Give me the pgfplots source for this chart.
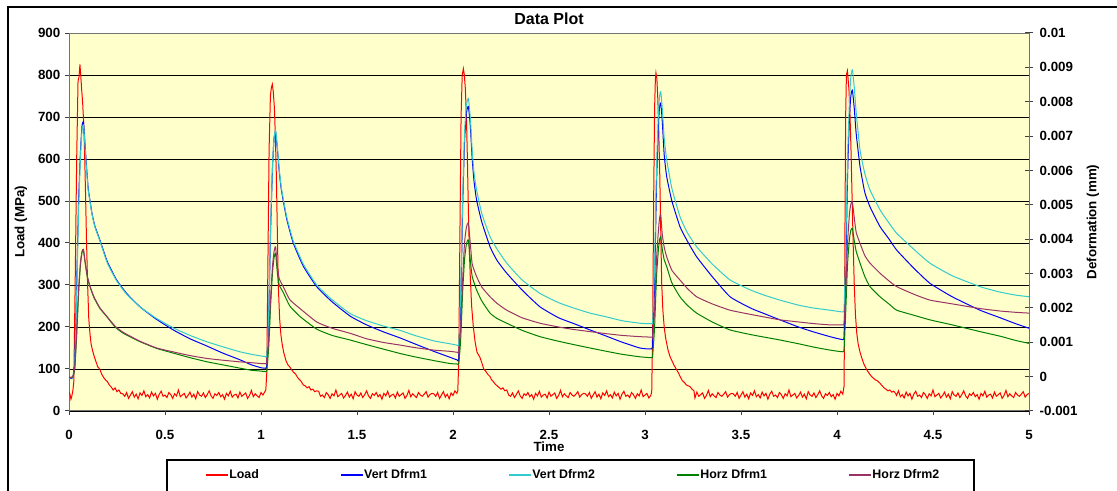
\documentclass[border=0pt]{standalone}
\usepackage{fontspec}
\setmainfont{Liberation Sans}
\usepackage{pgfplots}
\pgfplotsset{compat=1.18}

\definecolor{plotbg}{HTML}{FFFFCC}
\definecolor{loadred}{HTML}{FF0000}
\definecolor{vertone}{HTML}{0000FF}
\definecolor{verttwo}{HTML}{33CCCC}
\definecolor{horzone}{HTML}{008000}
\definecolor{horztwo}{HTML}{993366}

\newcommand{\tickfont}{\bfseries\fontsize{10}{12}\selectfont}
\newcommand{\labfont}{\bfseries\fontsize{10}{12}\selectfont}
\newcommand{\titfont}{\bfseries\fontsize{12}{14}\selectfont}
\newcommand{\legfont}{\bfseries\fontsize{9.3}{11}\selectfont}

\begin{document}
\begin{tikzpicture}
% 1 px of the reference = 0.75pt
\useasboundingbox (0,0) rectangle (837.75pt,368.25pt);
\draw[black, line width=1.3pt] (6pt,-10pt) -- (6pt,363pt) -- (850pt,363pt);

\begin{axis}[
  at={(51.75pt,60pt)}, anchor=south west,
  scale only axis, width=720pt, height=283.5pt,
  xmin=0, xmax=5, ymin=0, ymax=900,
  axis background/.style={fill=plotbg},
  xtick={0,0.5,1,1.5,2,2.5,3,3.5,4,4.5,5},
  xticklabels={0,0.5,1,1.5,2,2.5,3,3.5,4,4.5,5},
  ytick={0,100,200,300,400,500,600,700,800,900},
  yticklabels={0,100,200,300,400,500,600,700,800,900},
  xtick pos=bottom, ytick pos=left,
  tick align=outside, major tick length=3pt,
  tick style={black!75, line width=0.75pt},
  axis line style={black!55, line width=0.75pt},
  ymajorgrids, grid style={black, line width=0.55pt},
  ticklabel style={font=\tickfont},
  xticklabel style={yshift=-8pt},
  xlabel={Time}, ylabel={Load (MPa)}, title={Data Plot},
  every axis title shift=0pt,
  label style={font=\labfont},
  xlabel style={at={(axis description cs:0.5,-0.094)}, anchor=center},
  ylabel style={at={(axis description cs:-0.05,0.5)}, anchor=center},
  title style={at={(axis description cs:0.5,1.037)}, anchor=center, font=\titfont},
]
\addplot[draw=loadred, line width=0.75pt] coordinates {
(0,45)(0.005,40)(0.01,28)(0.015,36)(0.02,48)(0.025,70)(0.032,300)(0.04,600)(0.047,785)(0.052,795)(0.057,825)(0.061,800)(0.066,765)(0.071,735)(0.076,690)(0.081,620)(0.086,520)(0.091,410)(0.097,300)(0.103,220)(0.109,185)(0.115,160)(0.122,145)(0.13,132)(0.14,118)(0.15,105)(0.16,100)(0.17,88)(0.18,80)(0.19,74)(0.2,70)(0.21,62)(0.22,57)(0.23,50)(0.24,55)(0.25,46)(0.26,50)(0.27,42)
(0.28,41)(0.29,35)(0.3,44)(0.31,30)(0.32,38)(0.33,46)(0.34,33)(0.35,40)(0.36,29)(0.37,43)(0.38,37)(0.39,48)(0.4,34)(0.41,39)(0.42,31)(0.43,45)(0.44,36)(0.45,42)(0.46,28)(0.47,40)(0.48,47)(0.49,35)(0.5,38)(0.51,32)(0.52,44)(0.53,39)(0.54,30)(0.55,41)(0.56,36)(0.57,50)(0.58,34)(0.59,38)(0.6,42)(0.61,31)(0.62,37)(0.63,45)(0.64,33)(0.65,40)(0.66,29)(0.67,46)(0.68,38)(0.69,35)(0.7,43)(0.71,32)(0.72,39)(0.73,48)(0.74,36)(0.75,30)(0.76,41)(0.77,37)(0.78,44)(0.79,34)(0.8,39)(0.81,28)(0.82,42)(0.83,36)(0.84,47)(0.85,33)(0.86,38)(0.87,40)(0.88,31)(0.89,45)(0.9,35)(0.91,39)(0.92,43)(0.93,30)(0.94,37)(0.95,49)(0.96,34)(0.97,41)(0.98,36)(0.99,32)(1,44)(1.01,38)(1.02,46)
(1.025,50)(1.03,90)(1.036,350)(1.042,620)(1.049,750)(1.054,770)(1.059,778)(1.064,760)(1.07,720)(1.075,650)(1.08,560)(1.085,430)(1.09,300)(1.097,220)(1.104,180)(1.11,160)(1.118,140)(1.13,120)(1.14,110)(1.15,105)(1.16,98)(1.17,92)(1.18,88)(1.19,80)(1.2,75)(1.21,70)(1.22,62)(1.23,60)(1.24,55)(1.25,58)(1.26,50)(1.27,52)(1.28,46)(1.29,48)
(1.3,47)(1.31,35)(1.32,38)(1.33,32)(1.34,44)(1.35,39)(1.36,30)(1.37,41)(1.38,36)(1.39,50)(1.4,34)(1.41,38)(1.42,42)(1.43,31)(1.44,37)(1.45,45)(1.46,33)(1.47,40)(1.48,29)(1.49,46)(1.5,38)(1.51,35)(1.52,43)(1.53,32)(1.54,39)(1.55,48)(1.56,36)(1.57,30)(1.58,41)(1.59,37)(1.6,44)(1.61,34)(1.62,39)(1.63,28)(1.64,42)(1.65,36)(1.66,47)(1.67,33)(1.68,38)(1.69,40)(1.7,31)(1.71,45)(1.72,35)(1.73,39)(1.74,43)(1.75,30)(1.76,37)(1.77,49)(1.78,34)(1.79,41)(1.8,36)(1.81,32)(1.82,44)(1.83,38)(1.84,35)(1.85,40)(1.86,46)(1.87,33)(1.88,39)(1.89,42)(1.9,41)(1.91,35)(1.92,44)(1.93,30)(1.94,38)(1.95,46)(1.96,33)(1.97,40)(1.98,29)(1.99,43)(2,37)(2.01,48)(2.02,42)
(2.025,48)(2.03,120)(2.036,420)(2.042,700)(2.048,800)(2.054,815)(2.059,800)(2.064,770)(2.07,700)(2.075,600)(2.08,480)(2.085,383)(2.09,320)(2.097,250)(2.106,200)(2.115,165)(2.125,140)(2.14,128)(2.15,115)(2.16,100)(2.17,95)(2.18,88)(2.193,82)(2.2,75)(2.21,70)(2.22,64)(2.23,60)(2.24,56)(2.25,52)(2.26,55)(2.27,48)(2.28,50)
(2.29,38)(2.3,35)(2.31,43)(2.32,32)(2.33,39)(2.34,48)(2.35,36)(2.36,30)(2.37,41)(2.38,37)(2.39,44)(2.4,34)(2.41,39)(2.42,28)(2.43,42)(2.44,36)(2.45,47)(2.46,33)(2.47,38)(2.48,40)(2.49,31)(2.5,45)(2.51,35)(2.52,39)(2.53,43)(2.54,30)(2.55,37)(2.56,49)(2.57,34)(2.58,41)(2.59,36)(2.6,32)(2.61,44)(2.62,38)(2.63,35)(2.64,40)(2.65,46)(2.66,33)(2.67,39)(2.68,42)(2.69,41)(2.7,35)(2.71,44)(2.72,30)(2.73,38)(2.74,46)(2.75,33)(2.76,40)(2.77,29)(2.78,43)(2.79,37)(2.8,48)(2.81,34)(2.82,39)(2.83,31)(2.84,45)(2.85,36)(2.86,42)(2.87,28)(2.88,40)(2.89,47)(2.9,35)(2.91,38)(2.92,32)(2.93,44)(2.94,39)(2.95,30)(2.96,41)(2.97,36)(2.98,50)(2.99,34)(3,38)(3.01,42)(3.02,31)(3.03,37)
(3.035,45)(3.04,200)(3.045,500)(3.05,720)(3.054,790)(3.057,805)(3.062,790)(3.067,740)(3.072,660)(3.077,560)(3.082,430)(3.087,304)(3.093,240)(3.1,200)(3.107,175)(3.113,161)(3.12,145)(3.13,130)(3.14,120)(3.15,110)(3.165,98)(3.175,90)(3.185,80)(3.195,72)(3.205,68)(3.215,62)(3.225,60)(3.234,58)(3.245,52)(3.255,48)
(3.26,31)(3.27,45)(3.28,35)(3.29,39)(3.3,43)(3.31,30)(3.32,37)(3.33,49)(3.34,34)(3.35,41)(3.36,36)(3.37,32)(3.38,44)(3.39,38)(3.4,35)(3.41,40)(3.42,46)(3.43,33)(3.44,39)(3.45,42)(3.46,41)(3.47,35)(3.48,44)(3.49,30)(3.5,38)(3.51,46)(3.52,33)(3.53,40)(3.54,29)(3.55,43)(3.56,37)(3.57,48)(3.58,34)(3.59,39)(3.6,31)(3.61,45)(3.62,36)(3.63,42)(3.64,28)(3.65,40)(3.66,47)(3.67,35)(3.68,38)(3.69,32)(3.7,44)(3.71,39)(3.72,30)(3.73,41)(3.74,36)(3.75,50)(3.76,34)(3.77,38)(3.78,42)(3.79,31)(3.8,37)(3.81,45)(3.82,33)(3.83,40)(3.84,29)(3.85,46)(3.86,38)(3.87,35)(3.88,43)(3.89,32)(3.9,39)(3.91,48)(3.92,36)(3.93,30)(3.94,41)(3.95,37)(3.96,44)(3.97,34)(3.98,39)(3.99,28)(4,42)(4.01,36)(4.02,47)(4.03,40)
(4.037,60)(4.041,400)(4.045,700)(4.049,800)(4.054,810)(4.058,790)(4.063,760)(4.068,700)(4.073,620)(4.079,500)(4.085,383)(4.09,300)(4.096,230)(4.103,185)(4.11,160)(4.12,140)(4.13,125)(4.14,112)(4.155,98)(4.17,88)(4.18,82)(4.19,78)(4.2,74)(4.21,72)(4.224,66)(4.235,60)(4.245,55)(4.255,52)(4.265,48)(4.275,50)(4.285,45)(4.295,47)(4.305,42)
(4.31,37)(4.32,48)(4.33,34)(4.34,39)(4.35,31)(4.36,45)(4.37,36)(4.38,42)(4.39,28)(4.4,40)(4.41,47)(4.42,35)(4.43,38)(4.44,32)(4.45,44)(4.46,39)(4.47,30)(4.48,41)(4.49,36)(4.5,50)(4.51,34)(4.52,38)(4.53,42)(4.54,31)(4.55,37)(4.56,45)(4.57,33)(4.58,40)(4.59,29)(4.6,46)(4.61,38)(4.62,35)(4.63,43)(4.64,32)(4.65,39)(4.66,48)(4.67,36)(4.68,30)(4.69,41)(4.7,37)(4.71,44)(4.72,34)(4.73,39)(4.74,28)(4.75,42)(4.76,36)(4.77,47)(4.78,33)(4.79,38)(4.8,40)(4.81,31)(4.82,45)(4.83,35)(4.84,39)(4.85,43)(4.86,30)(4.87,37)(4.88,49)(4.89,34)(4.9,41)(4.91,36)(4.92,32)(4.93,44)(4.94,38)(4.95,35)(4.96,40)(4.97,46)(4.98,33)(4.99,39)(5,42)
};
\end{axis}

\begin{axis}[
  at={(51.75pt,60pt)}, anchor=south west,
  scale only axis, width=720pt, height=283.5pt,
  xmin=0, xmax=5, ymin=-0.001, ymax=0.01,
  axis x line=none, axis y line*=right,
  ytick={-0.001,0,0.001,0.002,0.003,0.004,0.005,0.006,0.007,0.008,0.009,0.01},
  yticklabels={-0.001,0,0.001,0.002,0.003,0.004,0.005,0.006,0.007,0.008,0.009,0.01},
  scaled y ticks=false,
  tick align=center, major tick length=6pt,
  tick style={black!75, line width=0.75pt},
  axis line style={black!55, line width=0.75pt},
  ticklabel style={font=\tickfont},
  yticklabel style={xshift=1.5pt},
  ylabel={Deformation (mm)},
  label style={font=\labfont},
  ylabel style={at={(axis description cs:1.0667,0.5)}, anchor=center},
  every axis plot/.append style={smooth, tension=0.3},
  legend columns=5,
  legend cell align=left,
  legend image code/.code={\draw[#1, sharp plot, line width=1pt] (0pt,0pt) -- (16.5pt,0pt);},
  legend style={at={(axis description cs:0.1021,-0.1296)}, anchor=north west,
    draw=none, fill=none, font=\legfont,
    inner xsep=28.5pt, inner ysep=5pt,
    nodes={inner xsep=0.5pt, inner ysep=2pt},
    /tikz/every even column/.append style={column sep=60.5pt}},
]
\addlegendimage{draw=loadred}
\addlegendentry{Load}
\addplot[draw=vertone, line width=0.75pt] coordinates {
(0,-0.022e-3)(0.01,-0.047e-3)(0.02,-0.022e-3)(0.03,0.467e-3)(0.04,2.667e-3)(0.05,5.111e-3)(0.06,6.578e-3)(0.068,7.311e-3)(0.075,7.421e-3)(0.08,7.067e-3)(0.09,6.211e-3)(0.1,5.478e-3)(0.109,5.136e-3)(0.12,4.744e-3)(0.135,4.378e-3)(0.161,3.974e-3)(0.2,3.339e-3)(0.248,2.813e-3)(0.3,2.422e-3)(0.37,2.031e-3)(0.45,1.689e-3)(0.543,1.359e-3)(0.63,1.102e-3)(0.717,0.894e-3)(0.8,0.687e-3)(0.89,0.491e-3)(0.95,0.344e-3)(1,0.259e-3)(1.02,0.247e-3)
(1.03,0.32e-3)(1.04,1.689e-3)(1.05,4.256e-3)(1.06,6.089e-3)(1.068,6.944e-3)(1.076,7.128e-3)(1.085,6.639e-3)(1.095,5.967e-3)(1.105,5.478e-3)(1.116,5.111e-3)(1.135,4.561e-3)(1.168,3.889e-3)(1.22,3.217e-3)(1.29,2.618e-3)(1.37,2.178e-3)(1.464,1.762e-3)(1.55,1.506e-3)(1.64,1.298e-3)(1.724,1.127e-3)(1.8,0.956e-3)(1.9,0.736e-3)(1.984,0.564e-3)(2.02,0.491e-3)
(2.03,0.528e-3)(2.04,2.056e-3)(2.05,4.867e-3)(2.06,6.822e-3)(2.07,7.678e-3)(2.08,7.861e-3)(2.09,7.311e-3)(2.1,6.333e-3)(2.11,5.661e-3)(2.123,5.136e-3)(2.15,4.5e-3)(2.193,3.779e-3)(2.23,3.376e-3)(2.28,3.009e-3)(2.36,2.52e-3)(2.453,2.031e-3)(2.55,1.713e-3)(2.63,1.542e-3)(2.714,1.359e-3)(2.8,1.176e-3)(2.88,1.004e-3)(2.974,0.833e-3)(3.035,0.809e-3)
(3.04,1.017e-3)(3.05,2.667e-3)(3.06,5.6e-3)(3.07,7.311e-3)(3.076,7.861e-3)(3.082,7.959e-3)(3.09,7.433e-3)(3.1,6.456e-3)(3.113,5.82e-3)(3.14,5.111e-3)(3.182,4.366e-3)(3.22,3.95e-3)(3.269,3.486e-3)(3.35,2.911e-3)(3.443,2.324e-3)(3.55,1.994e-3)(3.62,1.836e-3)(3.703,1.652e-3)(3.8,1.444e-3)(3.88,1.298e-3)(3.964,1.163e-3)(4.03,1.078e-3)
(4.037,1.2e-3)(4.045,2.911e-3)(4.055,5.844e-3)(4.065,7.556e-3)(4.072,8.167e-3)(4.08,8.338e-3)(4.09,7.8e-3)(4.1,7.067e-3)(4.12,6.113e-3)(4.145,5.356e-3)(4.172,4.94e-3)(4.224,4.366e-3)(4.27,4.011e-3)(4.311,3.681e-3)(4.4,3.156e-3)(4.484,2.716e-3)(4.6,2.324e-3)(4.745,1.933e-3)(4.85,1.713e-3)(4.93,1.542e-3)(5,1.408e-3)
};
\addlegendentry{Vert Dfrm1}
\addplot[draw=verttwo, line width=0.75pt] coordinates {
(0,-0.047e-3)(0.01,-0.022e-3)(0.02,-0.034e-3)(0.03,0.344e-3)(0.04,2.422e-3)(0.05,4.867e-3)(0.06,6.456e-3)(0.068,7.189e-3)(0.075,7.311e-3)(0.08,7.006e-3)(0.09,6.15e-3)(0.1,5.417e-3)(0.109,5.111e-3)(0.12,4.72e-3)(0.135,4.353e-3)(0.161,3.95e-3)(0.2,3.302e-3)(0.248,2.789e-3)(0.3,2.398e-3)(0.37,2.031e-3)(0.45,1.713e-3)(0.543,1.42e-3)(0.63,1.2e-3)(0.717,1.017e-3)(0.8,0.87e-3)(0.89,0.723e-3)(0.95,0.65e-3)(1,0.601e-3)(1.02,0.589e-3)
(1.03,0.626e-3)(1.04,1.811e-3)(1.05,4.378e-3)(1.06,6.15e-3)(1.068,6.944e-3)(1.076,7.164e-3)(1.085,6.7e-3)(1.095,6.028e-3)(1.105,5.539e-3)(1.116,5.172e-3)(1.135,4.622e-3)(1.168,3.95e-3)(1.22,3.278e-3)(1.29,2.667e-3)(1.37,2.239e-3)(1.464,1.836e-3)(1.55,1.628e-3)(1.64,1.469e-3)(1.724,1.347e-3)(1.8,1.2e-3)(1.9,1.041e-3)(1.984,0.956e-3)(2.02,0.919e-3)
(2.03,0.968e-3)(2.04,2.422e-3)(2.05,5.111e-3)(2.06,7.067e-3)(2.07,7.898e-3)(2.08,8.093e-3)(2.09,7.556e-3)(2.1,6.578e-3)(2.11,5.906e-3)(2.123,5.429e-3)(2.15,4.744e-3)(2.193,4.072e-3)(2.23,3.706e-3)(2.28,3.302e-3)(2.36,2.813e-3)(2.453,2.422e-3)(2.55,2.153e-3)(2.63,1.994e-3)(2.714,1.848e-3)(2.8,1.738e-3)(2.88,1.628e-3)(2.974,1.554e-3)(3.035,1.542e-3)
(3.04,1.628e-3)(3.05,3.278e-3)(3.06,6.089e-3)(3.07,7.678e-3)(3.076,8.167e-3)(3.082,8.289e-3)(3.09,7.8e-3)(3.1,6.944e-3)(3.113,6.309e-3)(3.14,5.478e-3)(3.182,4.659e-3)(3.22,4.194e-3)(3.269,3.779e-3)(3.35,3.278e-3)(3.443,2.813e-3)(3.55,2.52e-3)(3.62,2.373e-3)(3.703,2.227e-3)(3.8,2.08e-3)(3.88,1.994e-3)(3.964,1.933e-3)(4.03,1.884e-3)
(4.037,1.994e-3)(4.045,3.644e-3)(4.055,6.333e-3)(4.065,8.044e-3)(4.072,8.717e-3)(4.08,8.924e-3)(4.09,8.411e-3)(4.1,7.678e-3)(4.12,6.59e-3)(4.145,5.906e-3)(4.172,5.429e-3)(4.224,4.854e-3)(4.27,4.476e-3)(4.311,4.17e-3)(4.4,3.706e-3)(4.484,3.302e-3)(4.6,2.936e-3)(4.745,2.618e-3)(4.85,2.459e-3)(4.93,2.373e-3)(5,2.324e-3)
};
\addlegendentry{Vert Dfrm2}
\addplot[draw=horzone, line width=0.75pt] coordinates {
(0,-0.022e-3)(0.01,-0.034e-3)(0.02,-0.01e-3)(0.03,0.222e-3)(0.04,1.2e-3)(0.05,2.422e-3)(0.06,3.278e-3)(0.068,3.62e-3)(0.075,3.681e-3)(0.085,3.278e-3)(0.095,2.911e-3)(0.109,2.618e-3)(0.13,2.3e-3)(0.16,1.994e-3)(0.196,1.75e-3)(0.24,1.444e-3)(0.283,1.261e-3)(0.37,1.017e-3)(0.457,0.821e-3)(0.55,0.674e-3)(0.63,0.552e-3)(0.72,0.43e-3)(0.8,0.344e-3)(0.89,0.247e-3)(0.95,0.186e-3)(1,0.161e-3)(1.02,0.149e-3)
(1.03,0.173e-3)(1.04,0.833e-3)(1.05,2.056e-3)(1.06,3.033e-3)(1.068,3.461e-3)(1.076,3.596e-3)(1.085,3.033e-3)(1.095,2.667e-3)(1.116,2.447e-3)(1.15,2.056e-3)(1.203,1.75e-3)(1.29,1.383e-3)(1.37,1.2e-3)(1.464,1.066e-3)(1.55,0.931e-3)(1.64,0.797e-3)(1.724,0.674e-3)(1.8,0.577e-3)(1.9,0.467e-3)(1.984,0.381e-3)(2.02,0.369e-3)
(2.03,0.381e-3)(2.04,1.078e-3)(2.05,2.422e-3)(2.06,3.4e-3)(2.07,3.864e-3)(2.08,3.974e-3)(2.09,3.4e-3)(2.1,2.911e-3)(2.123,2.52e-3)(2.15,2.202e-3)(2.193,1.848e-3)(2.23,1.689e-3)(2.28,1.554e-3)(2.36,1.347e-3)(2.453,1.163e-3)(2.55,1.029e-3)(2.63,0.931e-3)(2.714,0.833e-3)(2.8,0.736e-3)(2.88,0.65e-3)(2.974,0.577e-3)(3.035,0.552e-3)
(3.04,0.613e-3)(3.05,1.444e-3)(3.06,2.911e-3)(3.07,3.706e-3)(3.076,3.987e-3)(3.082,4.072e-3)(3.09,3.706e-3)(3.1,3.4e-3)(3.113,3.204e-3)(3.14,2.728e-3)(3.182,2.324e-3)(3.22,2.08e-3)(3.269,1.848e-3)(3.35,1.591e-3)(3.443,1.359e-3)(3.55,1.224e-3)(3.62,1.151e-3)(3.703,1.066e-3)(3.8,0.956e-3)(3.88,0.858e-3)(3.964,0.772e-3)(4.03,0.723e-3)
(4.037,0.809e-3)(4.045,1.811e-3)(4.055,3.278e-3)(4.065,4.011e-3)(4.072,4.256e-3)(4.08,4.317e-3)(4.09,3.95e-3)(4.1,3.644e-3)(4.12,3.302e-3)(4.145,2.911e-3)(4.172,2.618e-3)(4.224,2.324e-3)(4.27,2.117e-3)(4.311,1.933e-3)(4.4,1.787e-3)(4.484,1.652e-3)(4.6,1.506e-3)(4.745,1.31e-3)(4.85,1.176e-3)(4.93,1.053e-3)(5,0.968e-3)
};
\addlegendentry{Horz Dfrm1}
\addplot[draw=horztwo, line width=0.75pt] coordinates {
(0,-0.01e-3)(0.01,-0.022e-3)(0.02,0.002e-3)(0.03,0.283e-3)(0.04,1.322e-3)(0.05,2.544e-3)(0.06,3.339e-3)(0.068,3.644e-3)(0.075,3.706e-3)(0.085,3.302e-3)(0.095,2.936e-3)(0.109,2.642e-3)(0.13,2.324e-3)(0.16,2.007e-3)(0.196,1.762e-3)(0.24,1.469e-3)(0.283,1.286e-3)(0.37,1.029e-3)(0.457,0.833e-3)(0.55,0.711e-3)(0.63,0.613e-3)(0.72,0.528e-3)(0.8,0.479e-3)(0.89,0.43e-3)(0.95,0.406e-3)(1,0.381e-3)(1.02,0.381e-3)
(1.03,0.406e-3)(1.04,1.078e-3)(1.05,2.3e-3)(1.06,3.217e-3)(1.068,3.644e-3)(1.076,3.779e-3)(1.085,3.217e-3)(1.095,2.85e-3)(1.116,2.618e-3)(1.15,2.239e-3)(1.203,1.982e-3)(1.29,1.591e-3)(1.37,1.408e-3)(1.464,1.261e-3)(1.55,1.102e-3)(1.64,0.992e-3)(1.724,0.919e-3)(1.8,0.846e-3)(1.9,0.772e-3)(1.984,0.736e-3)(2.02,0.711e-3)
(2.03,0.723e-3)(2.04,1.444e-3)(2.05,2.789e-3)(2.06,3.889e-3)(2.07,4.353e-3)(2.08,4.463e-3)(2.09,3.889e-3)(2.1,3.278e-3)(2.123,2.911e-3)(2.15,2.606e-3)(2.193,2.324e-3)(2.23,2.129e-3)(2.28,1.933e-3)(2.36,1.713e-3)(2.453,1.554e-3)(2.55,1.444e-3)(2.63,1.371e-3)(2.714,1.31e-3)(2.8,1.249e-3)(2.88,1.2e-3)(2.974,1.163e-3)(3.035,1.151e-3)
(3.04,1.2e-3)(3.05,1.933e-3)(3.06,3.4e-3)(3.07,4.256e-3)(3.076,4.622e-3)(3.082,4.708e-3)(3.09,4.133e-3)(3.1,3.767e-3)(3.113,3.486e-3)(3.14,3.094e-3)(3.182,2.813e-3)(3.22,2.569e-3)(3.269,2.324e-3)(3.35,2.117e-3)(3.443,1.933e-3)(3.55,1.811e-3)(3.62,1.738e-3)(3.703,1.652e-3)(3.8,1.591e-3)(3.88,1.542e-3)(3.964,1.506e-3)(4.03,1.506e-3)
(4.037,1.567e-3)(4.045,2.422e-3)(4.055,3.889e-3)(4.065,4.744e-3)(4.072,5.013e-3)(4.08,5.087e-3)(4.09,4.622e-3)(4.1,4.194e-3)(4.12,3.877e-3)(4.145,3.522e-3)(4.172,3.302e-3)(4.224,3.009e-3)(4.27,2.789e-3)(4.311,2.618e-3)(4.4,2.398e-3)(4.484,2.227e-3)(4.6,2.117e-3)(4.745,1.982e-3)(4.85,1.909e-3)(4.93,1.872e-3)(5,1.848e-3)
};
\addlegendentry{Horz Dfrm2}
\end{axis}
\draw[black, line width=1pt] (125.25pt,-10pt) -- (125.25pt,23.25pt) -- (730.5pt,23.25pt) -- (730.5pt,-10pt);
\end{tikzpicture}
\end{document}
